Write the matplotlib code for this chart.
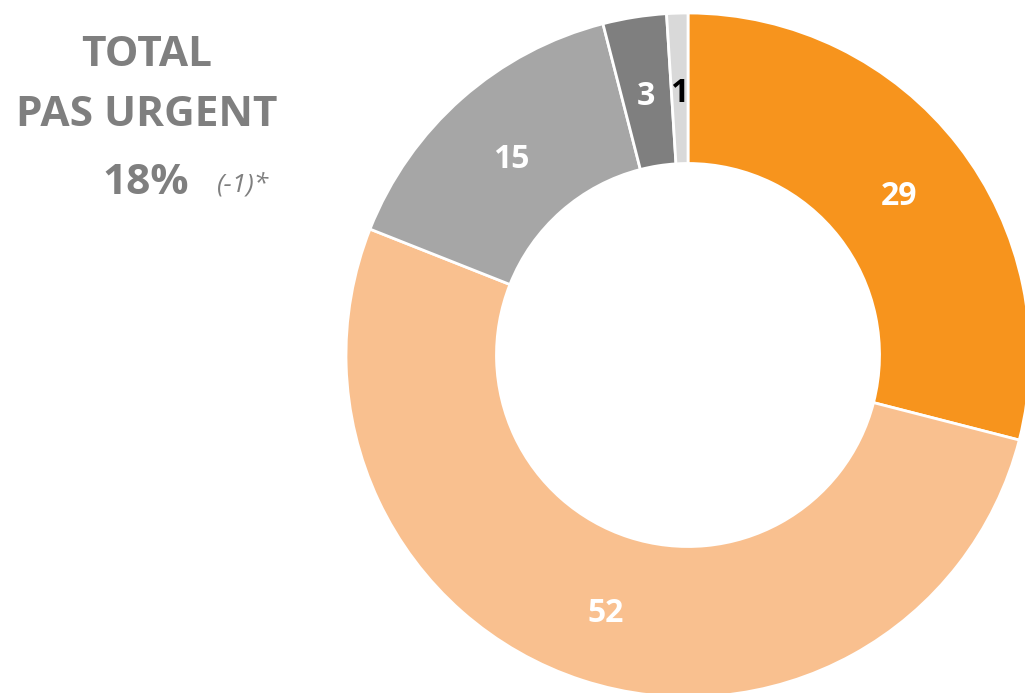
import matplotlib
matplotlib.use("Agg")
import matplotlib.pyplot as plt
import numpy as np

values = [29, 52, 15, 3, 1]
labels = ["29", "52", "15", "3", "1"]
colors = ["#F7941D", "#F9C08F", "#A6A6A6", "#7F7F7F", "#D9D9D9"]
label_colors = ["white", "white", "white", "white", "black"]

title_lines = ["TOTAL", "PAS URGENT"]
total_value = "18%"
total_delta = "(-1)*"

W, H = 1025, 693
fig = plt.figure(figsize=(W / 100, H / 100), dpi=100)
ax = fig.add_axes([0, 0, 1, 1])

cx, cy, R = 688, H - 355, 342
width_frac = 0.44
wedges, _ = ax.pie(values, colors=colors, startangle=90, counterclock=False,
                   center=(cx, cy), radius=R,
                   wedgeprops=dict(width=R * width_frac, edgecolor="white", linewidth=2))
total = sum(values)
cum = 0
rl = R * (1 - width_frac / 2)
for v, lab, lc in zip(values, labels, label_colors):
    mid = cum + v / 2
    ang = np.deg2rad(90 - 360 * mid / total)
    ax.text(cx + rl * np.cos(ang), cy + rl * np.sin(ang) - 5, lab, ha="center", va="center",
            color=lc, fontsize=23, fontweight="bold", family="Open Sans")
    cum += v

ax.set_xlim(0, W)
ax.set_ylim(0, H)
ax.set_aspect("equal")
ax.axis("off")

gray = "#7F7F7F"
fs = 30.5
fig.text(147 / W, 1 - 56 / H, title_lines[0], ha="center", va="center", color=gray,
         fontsize=fs, fontweight="bold", family="Open Sans")
fig.text(147 / W, 1 - 116 / H, title_lines[1], ha="center", va="center", color=gray,
         fontsize=fs, fontweight="bold", family="Open Sans")
fig.text(146 / W, 1 - 183 / H, total_value, ha="center", va="center", color=gray,
         fontsize=fs, fontweight="bold", family="Open Sans")
fig.text(243 / W, 1 - 185 / H, total_delta, ha="center", va="center", color=gray,
         fontsize=19, style="italic", family="Open Sans")

fig.savefig("out.png", dpi=100)
